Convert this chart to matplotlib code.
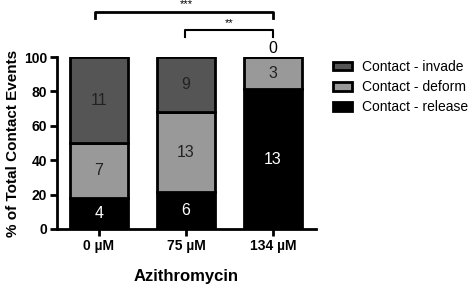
import numpy as np
import matplotlib
matplotlib.use('Agg')
import matplotlib.pyplot as plt

plt.rcParams['font.family'] = ['Liberation Sans', 'DejaVu Sans']

groups = ['0 µM', '75 µM', '134 µM']
release = [4, 6, 13]
deform = [7, 13, 3]
invade = [11, 9, 0]
series_names = ['Contact - invade', 'Contact - deform', 'Contact - release']

counts = np.array([release, deform, invade], dtype=float)
pct = counts / counts.sum(axis=0) * 100

fig = plt.figure(figsize=(4.7, 2.84), dpi=100)
ax = fig.add_axes([0.121, 0.194, 0.551, 0.605])

x = np.arange(len(groups))
w = 0.67
colors = ['black', '#999999', '#555555']
bottoms = np.zeros(len(groups))
bars = []
for i in range(3):
    b = ax.bar(x, pct[i], w, bottom=bottoms, color=colors[i],
               edgecolor='black', linewidth=2, zorder=2)
    bars.append(b)
    for j in range(len(groups)):
        c = int(counts[i, j])
        if pct[i, j] > 0:
            ax.text(x[j], bottoms[j] + pct[i, j] / 2, str(c), ha='center', va='center',
                    fontsize=11.5, color='white' if i == 0 else '#222222')
        else:
            ax.text(x[j], bottoms[j] + 5, str(c), ha='center', va='center',
                    fontsize=11.5, color='black', clip_on=False)
    bottoms += pct[i]

ax.set_xlim(-0.483, 2.494)
ax.set_ylim(0, 100)
ax.set_yticks([0, 20, 40, 60, 80, 100])
ax.set_xticks(x)
ax.set_xticklabels(groups, fontweight='bold', fontsize=10)
for t in ax.get_yticklabels():
    t.set_fontweight('bold')
    t.set_fontsize(10)
ax.tick_params(width=2, length=5, direction='out', pad=2)
ax.spines['top'].set_visible(False)
ax.spines['right'].set_visible(False)
ax.spines['left'].set_linewidth(2)
ax.spines['bottom'].set_linewidth(2)
ax.set_ylabel('% of Total Contact Events', fontweight='bold', fontsize=11, labelpad=3)
ax.set_xlabel('Azithromycin', fontweight='bold', fontsize=12, labelpad=12)

# significance brackets
ax.plot([x[0] - 0.05, x[0] - 0.05, x[2], x[2]], [122.5, 126, 126, 122.5],
        color='black', lw=2, clip_on=False)
ax.text((x[0] + x[2]) / 2, 128, '***', ha='center', va='bottom', fontsize=8)
ax.plot([x[1] - 0.01, x[1] - 0.01, x[2], x[2]], [111.5, 115.5, 115.5, 111.5],
        color='black', lw=1.5, clip_on=False)
ax.text((x[1] + x[2]) / 2, 117, '**', ha='center', va='bottom', fontsize=8)

handles = [bars[2], bars[1], bars[0]]
fig.legend(handles, series_names, loc='upper left', bbox_to_anchor=(0.7085, 0.789),
           frameon=False, fontsize=10, handlelength=1.37, handleheight=0.6,
           labelspacing=0.45, handletextpad=0.72, borderpad=0, borderaxespad=0)

fig.savefig('out.png', dpi=100)
